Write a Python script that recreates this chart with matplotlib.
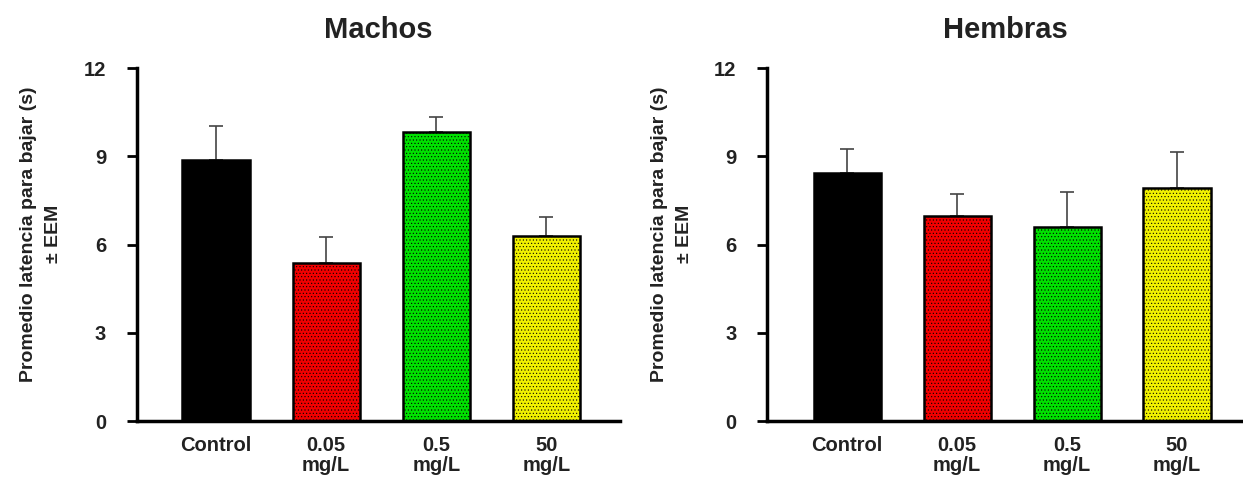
import matplotlib.pyplot as plt

groups = ['Control', '0.05\nmg/L', '0.5\nmg/L', '50\nmg/L']
colors = ['#000000', '#f00000', '#00e000', '#f0f000']

machos = [8.87, 5.37, 9.83, 6.3]
machos_err = [1.17, 0.9, 0.5, 0.64]

hembras = [8.43, 6.97, 6.6, 7.93]
hembras_err = [0.82, 0.75, 1.2, 1.22]

titles = ['Machos', 'Hembras']
ylabel = 'Promedio latencia para bajar (s)\n\u00b1 EEM'

plt.rcParams['font.family'] = ['Liberation Sans', 'DejaVu Sans']
plt.rcParams['hatch.linewidth'] = 0.4


def draw(ax, vals, errs, title):
    x = range(len(groups))
    ax.bar(x, vals, width=0.61, color=colors, edgecolor='black',
           linewidth=1.8, hatch='.....', zorder=2)
    ax.errorbar(x, vals, yerr=[[0] * len(errs), errs], fmt='none',
                ecolor='#444444', elinewidth=1.2, capsize=5, capthick=1.2,
                zorder=1)
    ax.set_ylim(0, 12)
    ax.set_yticks([0, 3, 6, 9, 12])
    ax.set_xticks(list(x))
    ax.set_xticklabels(groups, fontsize=14.5, fontweight='bold',
                       color='#222222', linespacing=1.05)
    for lab in ax.get_yticklabels():
        lab.set_fontweight('bold')
        lab.set_fontsize(14.5)
        lab.set_color('#222222')
    ax.tick_params(axis='x', length=0, pad=11)
    ax.tick_params(axis='y', direction='out', length=7, width=2, pad=15)
    ax.spines['top'].set_visible(False)
    ax.spines['right'].set_visible(False)
    ax.spines['left'].set_linewidth(2.5)
    ax.spines['bottom'].set_linewidth(2.5)
    ax.set_title(title, fontsize=21, fontweight='bold',
                 color='#222222', pad=22)
    ax.set_ylabel(ylabel, fontsize=14, fontweight='bold',
                  color='#222222', linespacing=1.6)
    ax.yaxis.set_label_coords(-0.155, 0.53)


fig = plt.figure(figsize=(12.43, 4.83), dpi=100)
ax1 = fig.add_axes([0.110, 0.128, 0.389, 0.731])
ax2 = fig.add_axes([0.617, 0.128, 0.383, 0.731])

draw(ax1, machos, machos_err, titles[0])
draw(ax2, hembras, hembras_err, titles[1])
ax1.set_xlim(-0.72, 3.67)
ax2.set_xlim(-0.73, 3.6)

fig.savefig('out.png', dpi=100)
